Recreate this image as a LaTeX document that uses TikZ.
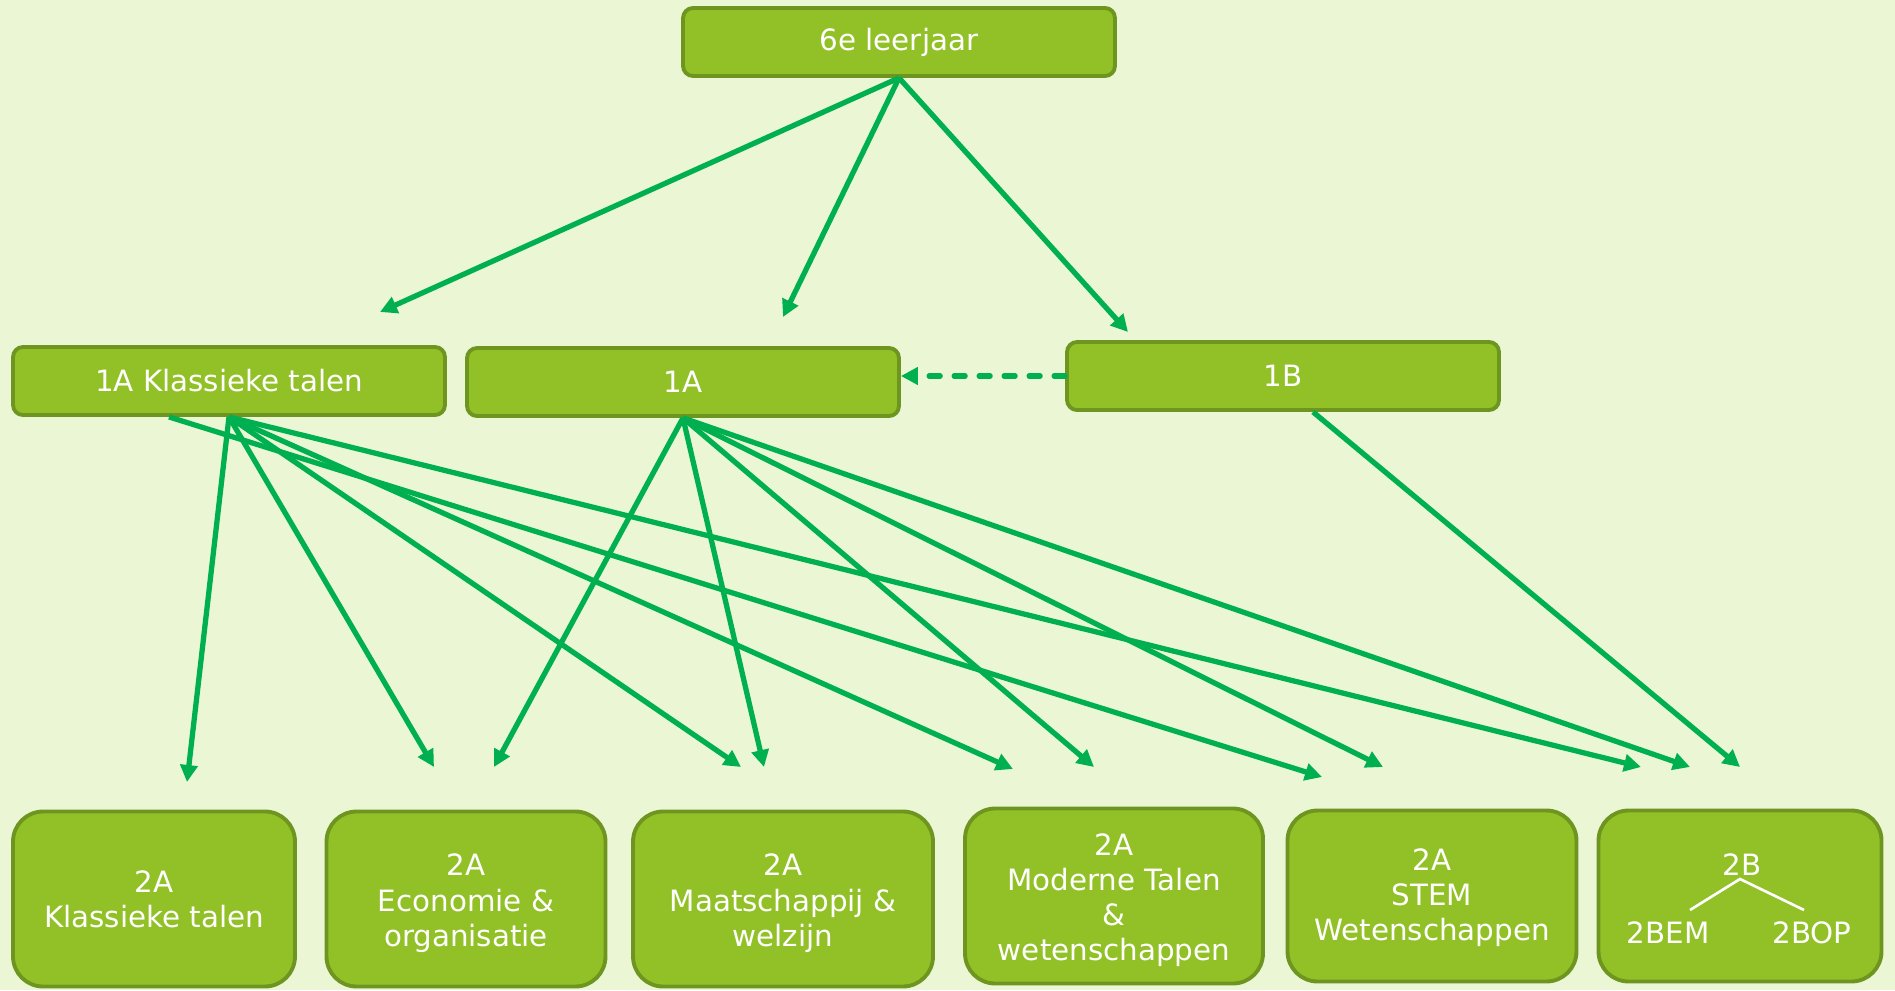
\documentclass[tikz,border=0pt]{standalone}
\usepackage{fontspec}
\setmainfont{DejaVu Sans}
\usetikzlibrary{arrows.meta}
\definecolor{bgGreen}{HTML}{EBF6D4}
\definecolor{boxFill}{HTML}{92C127}
\definecolor{boxBorder}{HTML}{6E9520}
\definecolor{arrowGreen}{HTML}{00B050}

\begin{document}
\begin{tikzpicture}[x=0.02cm, y=-0.02cm,
      box/.style={draw=boxBorder, fill=boxFill, line width=2.2pt, rounded corners=0.2cm,
        text=white, font=\fontsize{16.7}{20}\selectfont, inner sep=0pt,
        minimum width=8.64cm, minimum height=1.36cm},
      leaf/.style={box, rounded corners=0.6cm, minimum height=3.5cm, align=center},
      label/.style={text=white, font=\fontsize{16.7}{20}\selectfont, inner sep=1pt},
      link/.style={draw=arrowGreen, line width=3pt, -{Triangle[length=0.34cm,width=0.34cm]}},
      maybe/.style={link, line cap=round, dash pattern=on 0.22cm off 0.28cm}
      ]
      \useasboundingbox[fill=bgGreen] (0,0) rectangle (1895,990);

      % top and first year
      \node[box] (top) at (899,42) {6e leerjaar};
      \node[box] (k1) at (229,381) {1A Klassieke talen};
      \node[box] (a1) at (683,382) {1A};
      \node[box] (b1) at (1283,376) {1B};

      % second year
      \node[leaf, minimum width=5.64cm] (kt) at (154,899) {2A\\Klassieke talen};
      \node[leaf, minimum width=5.58cm] (eo) at (466,899) {\\[-0.1cm]2A\\Economie \&\\organisatie};
      \node[leaf, minimum width=6.0cm] (mw) at (783,899) {\\[-0.1cm]2A\\Maatschappij \&\\welzijn};
      \node[leaf, minimum width=5.96cm] (mt) at (1114,896) {\\[-0.1cm]2A\\Moderne Talen\\\&\\wetenschappen};
      \node[leaf, minimum width=5.78cm, minimum height=3.42cm] (st) at (1432,896) {\\[-0.2cm]2A\\STEM\\Wetenschappen};
      \node[leaf, minimum width=5.66cm, minimum height=3.42cm] (tb) at (1740,896) {};

      % inside 2B
      \node[label] (tbt) at (1742,865) {2B};
      \node[label] (tbem) at (1668,933) {2BEM};
      \node[label] (tbop) at (1812,933) {2BOP};
      \coordinate (apex) at (1740,879);
      \coordinate (legl) at (1690,910);
      \coordinate (legr) at (1804,910);
      \draw[white, line width=1.5pt] (legl) -- (apex) -- (legr);

      % free arrow ends
      \coordinate (e1) at (380,312);
      \coordinate (e2) at (783,317);
      \coordinate (e3) at (1128,332);
      \coordinate (k2kt) at (187,782);
      \coordinate (k2eo) at (434,767);
      \coordinate (k2mw) at (741,767);
      \coordinate (k2mt) at (1013,769);
      \coordinate (k2st) at (1322,777);
      \coordinate (k2tb) at (1641,767);
      \coordinate (a2eo) at (494,767);
      \coordinate (a2mw) at (764,767);
      \coordinate (a2mt) at (1094,767);
      \coordinate (a2st) at (1383,767);
      \coordinate (a2tb) at (1690,767);
      \coordinate (b2tb) at (1740,767);

      \draw[link] (top.south) -- (e1);
      \draw[link] (top.south) -- (e2);
      \draw[link] (top.south) -- (e3);
      \draw[maybe] (b1.west) -- (a1.east |- b1.west);

      \draw[link] (k1.south) -- (k2kt);
      \draw[link] (k1.south) -- (k2eo);
      \draw[link] (k1.south) -- (k2mw);
      \draw[link] (k1.south) -- (k2mt);
      \draw[link] ([xshift=-1.2cm]k1.south) -- (k2st);
      \draw[link] (k1.south) -- (k2tb);

      \draw[link] (a1.south) -- (a2eo);
      \draw[link] (a1.south) -- (a2mw);
      \draw[link] (a1.south) -- (a2mt);
      \draw[link] (a1.south) -- (a2st);
      \draw[link] (a1.south) -- (a2tb);

      \draw[link] ([xshift=0.6cm]b1.south) -- (b2tb);
    \end{tikzpicture}
\end{document}
